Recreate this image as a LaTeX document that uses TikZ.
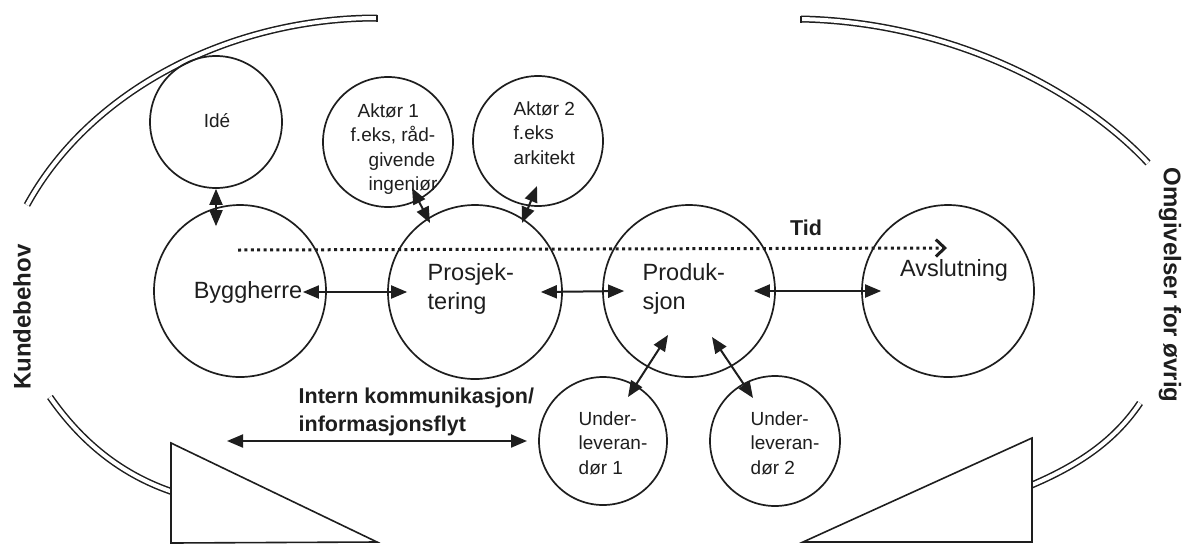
\documentclass[tikz,border=0pt]{standalone}
\usepackage{fontspec}
\setmainfont{Liberation Sans}
\usetikzlibrary{arrows.meta}
\definecolor{ink}{RGB}{30,30,30}
\begin{document}
\begin{tikzpicture}[x=1pt,y=-1pt,
  circ/.style={circle,draw=ink,line width=1.7pt,inner sep=0pt},
  lbl/.style={inner sep=0.5pt,align=left,text=ink},
  bigtxt/.style={font=\fontsize{23.5}{29}\selectfont},
  smalltxt/.style={font=\fontsize{19}{24.5}\selectfont},
  boldtxt/.style={font=\bfseries\fontsize{21.5}{28}\selectfont},
  sidetxt/.style={font=\bfseries\fontsize{24}{28}\selectfont},
  tipA/.tip={Triangle[length=16pt,width=13pt]},
  dbl/.style={draw=ink,line width=2pt,tipA-tipA},
  band/.style={draw=ink,line width=1.5pt,double=white,double distance=4pt},
  bandcap/.style={draw=ink,line width=1.5pt},
  tri/.style={draw=ink,line width=1.6pt,fill=white,line join=miter},
  timeline/.style={draw=ink,line width=3pt,dash pattern=on 3pt off 3.4pt,
     -{Straight Barb[length=9pt,width=17pt,line width=3pt]}}
]
\fill[white] (0,0) rectangle (1183,547);
\useasboundingbox (0,0) rectangle (1183,547);

% outer bands
\draw[band] (377,18) .. controls (230,18) and (90,90) .. (27,205);
\draw[bandcap] (377,14.5) -- (377,21.5);
\draw[band] (801,19) .. controls (950,22) and (1080,90) .. (1148,163);
\draw[bandcap] (801,15.5) -- (801,22.5);
\draw[band] (50,397) .. controls (80,440) and (120,475) .. (176,493);
\draw[band] (1140,403) .. controls (1115,440) and (1080,465) .. (1027,487);

% triangles
\draw[tri] (171,443) -- (171,543) -- (377,542) -- cycle;
\draw[tri] (1032,438) -- (1032,542) -- (803,542) -- cycle;

% circles
\node[circ,minimum size=132pt] (ide)  at (216,122) {};
\node[circ,minimum size=172pt] (bygg) at (240,291) {};
\node[circ,minimum size=174pt] (pros) at (475,292) {};
\node[circ,minimum size=172pt] (prod) at (689,291) {};
\node[circ,minimum size=172pt] (avsl) at (948,291) {};
\node[circ,minimum size=130pt] (akt1) at (388,142) {};
\node[circ,minimum size=130pt] (akt2) at (538,141) {};
\node[circ,minimum size=128pt] (ul1)  at (603,441) {};
\node[circ,minimum size=130pt] (ul2)  at (775,441) {};

% texts
\node[lbl,smalltxt] (idet) at (217,121) {Idé};
\node[lbl,bigtxt] (byggt) at (248,292) {Byggherre};
\node[lbl,bigtxt,anchor=west] (prost) at (427,289) {Prosjek-\\tering};
\node[lbl,bigtxt,anchor=west] (prodt) at (642,289) {Produk-\\sjon};
\node[lbl,bigtxt] (avslt) at (954,270) {Avslutning};
\node[lbl,smalltxt,anchor=west] (akt1t) at (350,149) {\hspace{7pt}Aktør 1\\f.eks, råd-\\\hspace{18pt}givende\\\hspace{18pt}ingeniør};
\node[lbl,smalltxt,anchor=west] (akt2t) at (513,133) {Aktør 2\\f.eks\\arkitekt};
\node[lbl,smalltxt,anchor=west] (ul1t) at (578,443) {Under-\\leveran-\\dør 1};
\node[lbl,smalltxt,anchor=west] (ul2t) at (750,443) {Under-\\leveran-\\dør 2};
\node[lbl,boldtxt] (tid) at (806,228) {Tid};
\node[lbl,boldtxt,anchor=west] (intern) at (298,412) {Intern kommunikasjon/\\informasjonsflyt};
\node[lbl,sidetxt,rotate=90] (kunde) at (22,317) {Kundebehov};
\node[lbl,sidetxt,rotate=-90] (omgiv) at (1170,285) {Omgivelser for øvrig};

% time line
\coordinate (tid0) at (238,250);
\coordinate (tid1) at (947,248);
\draw[timeline] (tid0) -- (tid1);

% internal communication arrow
\coordinate (int0) at (227,441);
\coordinate (int1) at (527,441);
\draw[dbl] (int0) -- (int1);

% connectors
\draw[dbl] (ide.south) -- ([yshift=-22pt]ide.south |- bygg.north);
\draw[dbl] (byggt.east) -- ([xshift=20pt]pros.west);
\draw[dbl] ([xshift=-22pt]pros.east) -- ([xshift=22pt]prod.west);
\draw[dbl] ([xshift=-22pt]prod.east) -- ([xshift=20pt]avsl.west);
\draw[dbl] ([shift={(24pt,-46pt)}]akt1.center) -- ([shift={(-45pt,69pt)}]pros.center);
\draw[dbl] ([shift={(-1pt,-45pt)}]akt2.center) -- ([shift={(47pt,69pt)}]pros.center);
\draw[dbl] ([shift={(-21pt,-44pt)}]prod.center) -- ([shift={(25pt,44pt)}]ul1.center);
\draw[dbl] ([shift={(23pt,-46pt)}]prod.center) -- ([shift={(-22pt,43pt)}]ul2.center);
\end{tikzpicture}
\end{document}
